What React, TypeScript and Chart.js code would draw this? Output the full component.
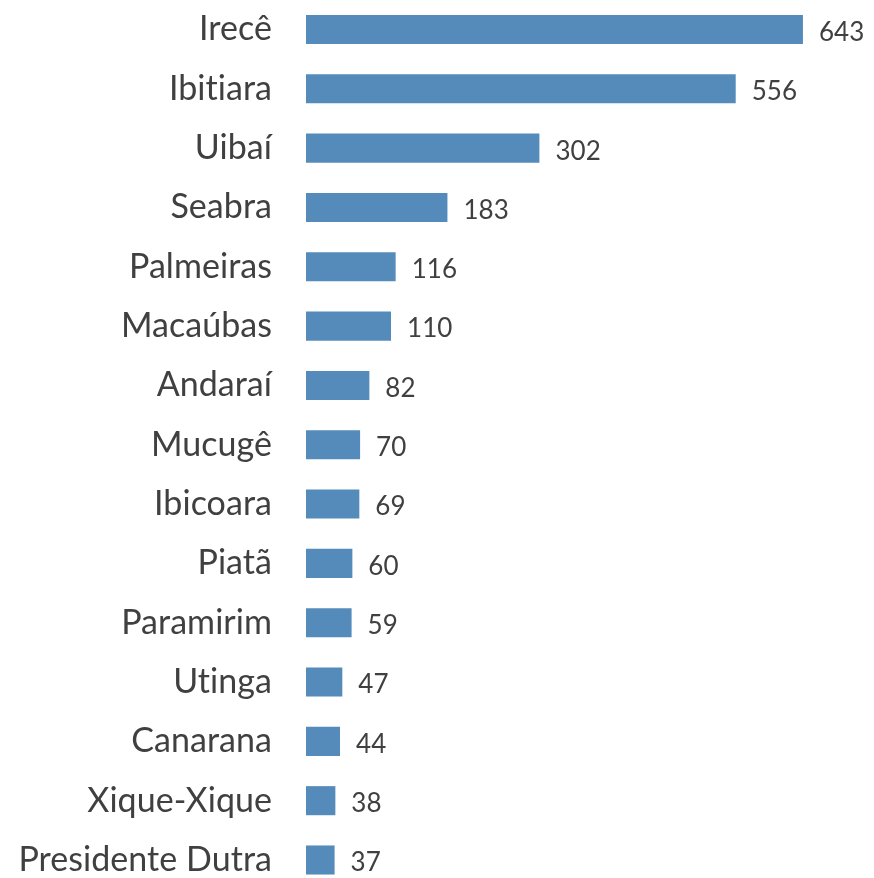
import React, { useEffect, useRef } from "react";
import { Chart, registerables } from "chart.js";

Chart.register(...registerables);

const categories = [
  "Irecê", "Ibitiara", "Uibaí", "Seabra", "Palmeiras", "Macaúbas", "Andaraí",
  "Mucugê", "Ibicoara", "Piatã", "Paramirim", "Utinga", "Canarana", "Xique-Xique",
  "Presidente Dutra",
];
const values = [643, 556, 302, 183, 116, 110, 82, 70, 69, 60, 59, 47, 44, 38, 37];

const BAR_COLOR = "#558BBA";
const TEXT_COLOR = "#404040";
const FONT = "Lato, 'Open Sans', sans-serif";

const noLigatures = {
  id: "noLigatures",
  beforeDraw(chart: any) {
    try {
      (chart.ctx as any).letterSpacing = "0.05px";
    } catch (e) {}
  },
};

const valueLabels = {
  id: "valueLabels",
  afterDatasetsDraw(chart: any) {
    const ctx = chart.ctx;
    const meta = chart.getDatasetMeta(0);
    ctx.save();
    ctx.fillStyle = TEXT_COLOR;
    ctx.font = `26px ${FONT}`;
    ctx.textAlign = "left";
    ctx.textBaseline = "middle";
    meta.data.forEach((bar: any, i: number) => {
      ctx.fillText(String(values[i]), bar.x + 16, bar.y + 3);
    });
    ctx.restore();
  },
};

export default function App() {
  const ref = useRef<HTMLCanvasElement | null>(null);
  useEffect(() => {
    if (!ref.current) return;
    const chart = new Chart(ref.current, {
      type: "bar",
      data: {
        labels: categories,
        datasets: [
          {
            data: values,
            backgroundColor: BAR_COLOR,
            borderWidth: 0,
            barPercentage: 0.49,
            categoryPercentage: 1,
            clip: false as any,
          },
        ],
      },
      options: {
        indexAxis: "y",
        animation: false,
        responsive: false,
        layout: { padding: { top: 29.5, bottom: 18, right: 27, left: 0 } },
        plugins: { legend: { display: false }, tooltip: { enabled: false } },
        scales: {
          x: { display: false, min: 0, max: 700 },
          y: {
            type: "category",
            offset: false,
            grid: { display: false, drawTicks: false },
            border: { display: false },
            ticks: {
              color: TEXT_COLOR,
              font: { family: FONT, size: 34 },
              padding: 34,
              autoSkip: false,
            },
            afterFit: (scale: any) => {
              scale.width = 306;
              scale.paddingTop = 0;
              scale.paddingBottom = 0;
            },
          },
        },
      },
      plugins: [noLigatures, valueLabels],
    });
    return () => chart.destroy();
  }, []);
  return (
    <div style={{ position: "absolute", left: 0, top: 0, width: 874, height: 878, background: "#fff" }}>
      <canvas ref={ref} width={874} height={878} style={{ display: "block" }} />
    </div>
  );
}
